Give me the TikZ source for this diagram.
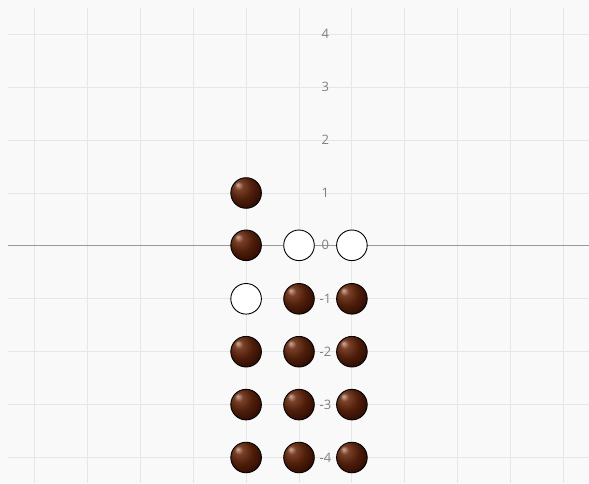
\documentclass[tikz,border=0pt]{standalone}
\usepackage{fontspec}
\setmainfont{Open Sans}
\definecolor{bgc}{HTML}{F9F9F9}
\definecolor{gridc}{HTML}{E6E6E6}
\definecolor{axisc}{HTML}{999999}
\definecolor{labc}{HTML}{808080}
\definecolor{bhl}{HTML}{D0AC9C}
\definecolor{bmid}{HTML}{7A4028}
\definecolor{bbr}{HTML}{4E1E0A}
\definecolor{bdk}{HTML}{2C0A02}
\definecolor{bedge}{HTML}{160400}
\pgfdeclareradialshading{brownball}{\pgfpoint{-14bp}{14bp}}{color(0bp)=(bhl); color(7bp)=(bmid); color(19bp)=(bbr); color(33bp)=(bdk); color(50bp)=(bedge)}
\tikzset{
  ballfull/.style={circle, minimum size=30.6pt, inner sep=0pt, draw=black, line width=0.9pt, shading=brownball},
  ballempty/.style={circle, minimum size=30.6pt, inner sep=0pt, draw=black, line width=0.9pt, fill=white},
  ylab/.style={text=labc, font=\fontsize{13}{13}\selectfont, inner sep=0pt},
  gridline/.style={draw=gridc, line width=1pt},
}
\begin{document}
\begin{tikzpicture}[x=1pt, y=-1pt]
\useasboundingbox (0,0) rectangle (589,483);
\fill[bgc] (0,0) rectangle (589,483);
% grid
\foreach \k in {0,...,10} {
  \draw[gridline] ({34.5+52.9*\k},8) -- ({34.5+52.9*\k},483);
}
\foreach \k in {0,...,8} {
  \draw[gridline] (8,{34.3+52.9*\k}) -- (589,{34.3+52.9*\k});
}
% x axis
\coordinate (axl) at (8,245.3);
\coordinate (axr) at (589,245.3);
\draw[axisc, line width=1.3pt] (axl) -- (axr);
% labels
\node[ylab] (l4) at (325.4,34.3) {4};
\node[ylab] (l3) at (325.4,87.2) {3};
\node[ylab] (l2) at (325.4,140.1) {2};
\node[ylab] (l1) at (325.4,193.0) {1};
\node[ylab] (l0) at (325.4,245.3) {0};
\node[ylab] (lm1) at (325.4,298.8) {-1};
\node[ylab] (lm2) at (325.4,351.7) {-2};
\node[ylab] (lm3) at (325.4,404.6) {-3};
\node[ylab] (lm4) at (325.4,457.5) {-4};
% column A
\node[ballfull] (a1) at (246.1,193.0) {};
\node[ballfull] (a0) at (246.1,245.3) {};
\node[ballempty] (am1) at (246.1,298.8) {};
\node[ballfull] (am2) at (246.1,351.7) {};
\node[ballfull] (am3) at (246.1,404.6) {};
\node[ballfull] (am4) at (246.1,457.5) {};
% column B
\node[ballempty] (b0) at (299.0,245.3) {};
\node[ballfull] (bm1) at (299.0,298.8) {};
\node[ballfull] (bm2) at (299.0,351.7) {};
\node[ballfull] (bm3) at (299.0,404.6) {};
\node[ballfull] (bm4) at (299.0,457.5) {};
% column C
\node[ballempty] (c0) at (351.9,245.3) {};
\node[ballfull] (cm1) at (351.9,298.8) {};
\node[ballfull] (cm2) at (351.9,351.7) {};
\node[ballfull] (cm3) at (351.9,404.6) {};
\node[ballfull] (cm4) at (351.9,457.5) {};
\end{tikzpicture}
\end{document}
